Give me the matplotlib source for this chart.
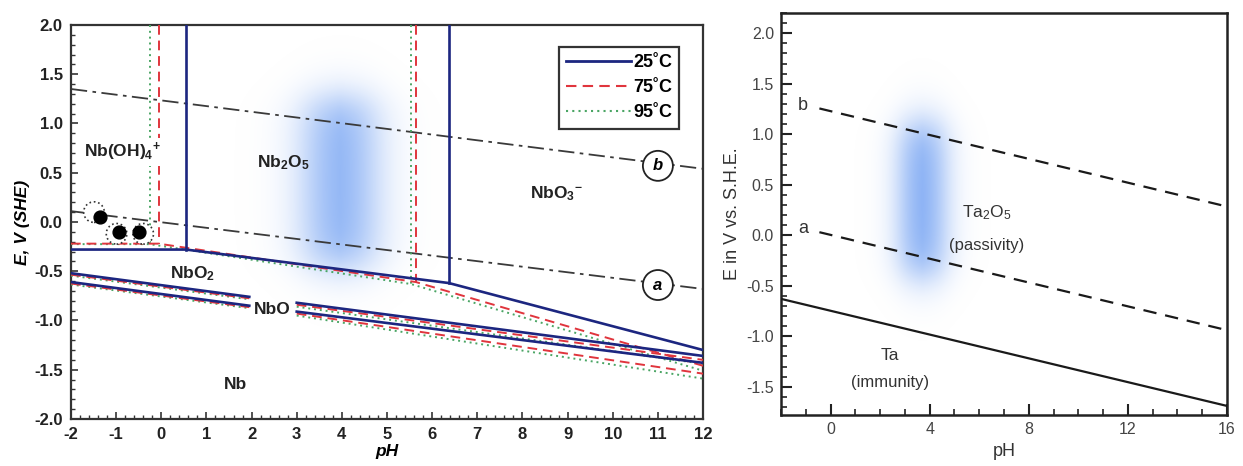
import numpy as np
import matplotlib
matplotlib.use("Agg")
import matplotlib.pyplot as plt
from matplotlib.ticker import MultipleLocator, FormatStrFormatter, FuncFormatter

plt.rcParams['font.family'] = ['Liberation Sans', 'DejaVu Sans']
plt.rcParams['mathtext.fontset'] = 'custom'
plt.rcParams['mathtext.rm'] = 'Liberation Sans'
plt.rcParams['mathtext.bf'] = 'Liberation Sans:bold'
plt.rcParams['mathtext.it'] = 'Liberation Sans:italic'

# ---------------- Left panel data (Nb, pH vs E) ----------------
temps = ['25˚C', '75˚C', '95˚C']
colors = ['#1c2680', '#e0353d', '#4aa564']
styles = ['-', (0, (5, 3)), (0, (1, 2))]

# boundaries per temperature: list of polylines (pH list, E list)
nb25 = [
    ([0.55, 0.55], [2.0, -0.28]),
    ([-2.0, 0.55, 6.37, 12.0], [-0.28, -0.28, -0.62, -1.30]),
    ([6.37, 6.37], [2.0, -0.62]),
    ([-2.0, 1.95], [-0.52, -0.76]),
    ([-2.0, 1.95], [-0.61, -0.85]),
    ([3.0, 12.0], [-0.82, -1.36]),
    ([3.0, 12.0], [-0.91, -1.43]),
]
nb75 = [
    ([-0.06, -0.06], [2.0, -0.22]),
    ([-2.0, -0.06, 5.64, 12.0], [-0.22, -0.22, -0.61, -1.46]),
    ([5.64, 5.64], [2.0, -0.61]),
    ([-2.0, 1.95], [-0.535, -0.775]),
    ([-2.0, 1.95], [-0.625, -0.865]),
    ([3.0, 12.0], [-0.84, -1.40]),
    ([3.0, 12.0], [-0.93, -1.54]),
]
nb95 = [
    ([-0.26, -0.26], [2.0, -0.22]),
    ([-2.0, -0.26, 5.53, 12.0], [-0.225, -0.225, -0.63, -1.51]),
    ([5.53, 5.53], [2.0, -0.63]),
    ([-2.0, 1.95], [-0.545, -0.785]),
    ([-2.0, 1.95], [-0.635, -0.875]),
    ([3.0, 12.0], [-0.86, -1.44]),
    ([3.0, 12.0], [-0.95, -1.59]),
]
nb_sets = [nb25, nb75, nb95]

# water lines (dash-dot)
water_pH = [-2.0, 12.0]
water_b = [1.35, 0.54]
water_a = [0.11, -0.68]
circle_b = (11.0, 0.57)
circle_a = (11.0, -0.64)

# black dots and dotted rings
dot_pH = [-1.36, -0.93, -0.49]
dot_E = [0.05, -0.10, -0.10]
ring_pH = [-1.49, -0.99, -0.40]
ring_E = [0.10, -0.12, -0.12]

# region labels
nb_labels = ['Nb(OH)$_\\mathbf{4}$$^\\mathbf{+}$', 'Nb$_\\mathbf{2}$O$_\\mathbf{5}$',
             'NbO$_\\mathbf{3}$$^\\mathbf{-}$', 'NbO$_\\mathbf{2}$', 'NbO', 'Nb']
nb_label_pH = [-0.85, 2.7, 8.75, 0.7, 2.45, 1.65]
nb_label_E = [0.71, 0.60, 0.29, -0.52, -0.89, -1.65]

# blue highlight band (pH center, half-width, E top, E bottom)
band_left = (3.95, 0.7, 1.25, -0.45)

# ---------------- Right panel data (Ta) ----------------
ta_solid_pH = [-2.0, 16.0]
ta_solid_E = [-0.63, -1.69]
ta_a_pH = [-0.45, 16.0]
ta_a_E = [0.03, -0.94]
ta_b_pH = [-0.45, 16.0]
ta_b_E = [1.255, 0.284]
band_right = (3.7, 0.85, 1.1, -0.4)


def blue_band(ax, cx, hw, etop, ebot, xlim, ylim, sx, sy, amax):
    xs = np.linspace(xlim[0], xlim[1], 400)
    ys = np.linspace(ylim[0], ylim[1], 400)
    X, Y = np.meshgrid(xs, ys)
    fx = 1.0 / (1.0 + np.exp((np.abs(X - cx) - hw) / sx))
    ymid = 0.5 * (etop + ebot)
    hh = 0.5 * (etop - ebot)
    fy = 1.0 / (1.0 + np.exp((np.abs(Y - ymid) - hh) / sy))
    a = fx * fy * amax
    img = np.zeros(X.shape + (4,))
    img[..., 0] = 0.52
    img[..., 1] = 0.68
    img[..., 2] = 0.96
    img[..., 3] = a
    ax.imshow(img, extent=[xlim[0], xlim[1], ylim[0], ylim[1]], origin='lower',
              aspect='auto', zorder=0, interpolation='bilinear')


hyphen_fmt = FuncFormatter(lambda v, p: ('%g' % v) if abs(v - round(v)) < 1e-9 else '%.1f' % v)
hyphen_fmt_y = FuncFormatter(lambda v, p: '%.1f' % v)

fig = plt.figure(figsize=(12.43, 4.66), dpi=100)

# ================= Left panel =================
ax1 = fig.add_axes([0.0571, 0.1009, 0.5085, 0.8455])
xl1, yl1 = (-2, 12), (-2, 2)
blue_band(ax1, band_left[0], band_left[1], band_left[2], band_left[3], xl1, yl1, 0.3, 0.12, 0.95)

for k in [2, 1, 0]:
    for (px, pe) in nb_sets[k]:
        ax1.plot(px, pe, color=colors[k], linestyle=styles[k],
                 lw=1.9 if k == 0 else 1.4, zorder=4 if k == 0 else 3)

dd = (0, (9, 3, 2, 3))
ax1.plot(water_pH, water_b, color='#3a3a3a', linestyle=dd, lw=1.3, zorder=2)
ax1.plot(water_pH, water_a, color='#3a3a3a', linestyle=dd, lw=1.3, zorder=2)
for (cx, ce), lab in [(circle_b, 'b'), (circle_a, 'a')]:
    ax1.text(cx, ce, lab, ha='center', va='center', fontsize=12, fontweight='bold',
             fontstyle='italic', zorder=6,
             bbox=dict(boxstyle='circle,pad=0.45', fc='white', ec='#222222', lw=1.3))

ax1.scatter(ring_pH, ring_E, s=220, facecolors='white', edgecolors='#333333',
            linestyles=':', linewidths=1.2, zorder=5)
ax1.scatter(dot_pH, dot_E, s=85, color='black', zorder=6)

for i, (lab, x, y) in enumerate(zip(nb_labels, nb_label_pH, nb_label_E)):
    kw = {}
    if i == 0:
        kw['bbox'] = dict(boxstyle='square,pad=0.15', fc='white', ec='none')
    ax1.text(x, y, lab, ha='center', va='center', fontsize=12.5, fontweight='bold',
             color='#222222', zorder=7, **kw)

ax1.set_xlim(*xl1)
ax1.set_ylim(*yl1)
ax1.xaxis.set_major_locator(MultipleLocator(1))
ax1.xaxis.set_minor_locator(MultipleLocator(0.2))
ax1.yaxis.set_major_locator(MultipleLocator(0.5))
ax1.yaxis.set_minor_locator(MultipleLocator(0.1))
ax1.xaxis.set_major_formatter(hyphen_fmt)
ax1.yaxis.set_major_formatter(hyphen_fmt_y)
ax1.tick_params(which='both', direction='in', top=False, right=False, colors='#333333')
ax1.tick_params(which='major', length=5, width=1.2, labelsize=12, pad=6)
ax1.tick_params(which='minor', length=3, width=1.0)
for lbl in ax1.get_xticklabels() + ax1.get_yticklabels():
    lbl.set_fontweight('bold')
    lbl.set_color('#222222')
for sp in ax1.spines.values():
    sp.set_linewidth(1.6)
    sp.set_color('#333333')
ax1.set_xlabel('pH', fontsize=12.5, fontweight='bold', fontstyle='italic', labelpad=1)
ax1.set_ylabel('E, V (SHE)', fontsize=12.5, fontweight='bold', fontstyle='italic', labelpad=3)

handles = [plt.Line2D([], [], color=colors[k], linestyle=styles[k], lw=2.0 if k == 0 else 1.5)
           for k in range(3)]
leg = ax1.legend(handles, temps, loc='upper right', bbox_to_anchor=(0.977, 0.967),
                 fancybox=False, framealpha=1, edgecolor='#333333', handlelength=3.6,
                 handletextpad=0.1, borderpad=0.4, labelspacing=0.45,
                 prop={'weight': 'bold', 'size': 13})
leg.get_frame().set_linewidth(1.6)
leg.set_zorder(8)

# ================= Right panel =================
ax2 = fig.add_axes([0.6283, 0.1094, 0.3588, 0.8627])
xl2, yl2 = (-2, 16), (-1.78, 2.2)
blue_band(ax2, band_right[0], band_right[1], band_right[2], band_right[3], xl2, yl2, 0.35, 0.12, 1.0)

ax2.plot(ta_solid_pH, ta_solid_E, color='#1a1a1a', lw=1.6, zorder=3)
ax2.plot(ta_a_pH, ta_a_E, color='#1a1a1a', lw=1.6, linestyle=(0, (6, 4)), zorder=3)
ax2.plot(ta_b_pH, ta_b_E, color='#1a1a1a', lw=1.6, linestyle=(0, (6, 4)), zorder=3)

tc = '#333333'
ax2.text(-1.1, 1.28, 'b', ha='center', va='center', fontsize=13, color=tc)
ax2.text(-1.1, 0.07, 'a', ha='center', va='center', fontsize=13, color=tc)
ax2.text(6.3, 0.22, 'Ta$_2$O$_5$', ha='center', va='center', fontsize=12.5, color=tc)
ax2.text(6.3, -0.10, '(passivity)', ha='center', va='center', fontsize=12, color=tc)
ax2.text(2.4, -1.19, 'Ta', ha='center', va='center', fontsize=12.5, color=tc)
ax2.text(2.4, -1.46, '(immunity)', ha='center', va='center', fontsize=12, color=tc)

ax2.set_xlim(*xl2)
ax2.set_ylim(*yl2)
ax2.xaxis.set_major_locator(MultipleLocator(4))
ax2.xaxis.set_minor_locator(MultipleLocator(1))
ax2.yaxis.set_major_locator(MultipleLocator(0.5))
ax2.yaxis.set_minor_locator(MultipleLocator(0.1))
ax2.yaxis.set_major_formatter(FormatStrFormatter('%.1f'))
ax2.tick_params(which='both', direction='in', top=False, right=False, colors='#222222')
ax2.tick_params(which='major', length=8, width=1.5, labelsize=11.5, labelcolor='#444444', pad=5)
ax2.tick_params(which='minor', length=4, width=1.2)
for sp in ax2.spines.values():
    sp.set_linewidth(1.8)
    sp.set_color('#222222')
ax2.set_xlabel('pH', fontsize=13, color='#333333', labelpad=4)
ax2.set_ylabel('E in V vs. S.H.E.', fontsize=13, color='#333333', labelpad=4)

fig.savefig('out.png', dpi=100)
